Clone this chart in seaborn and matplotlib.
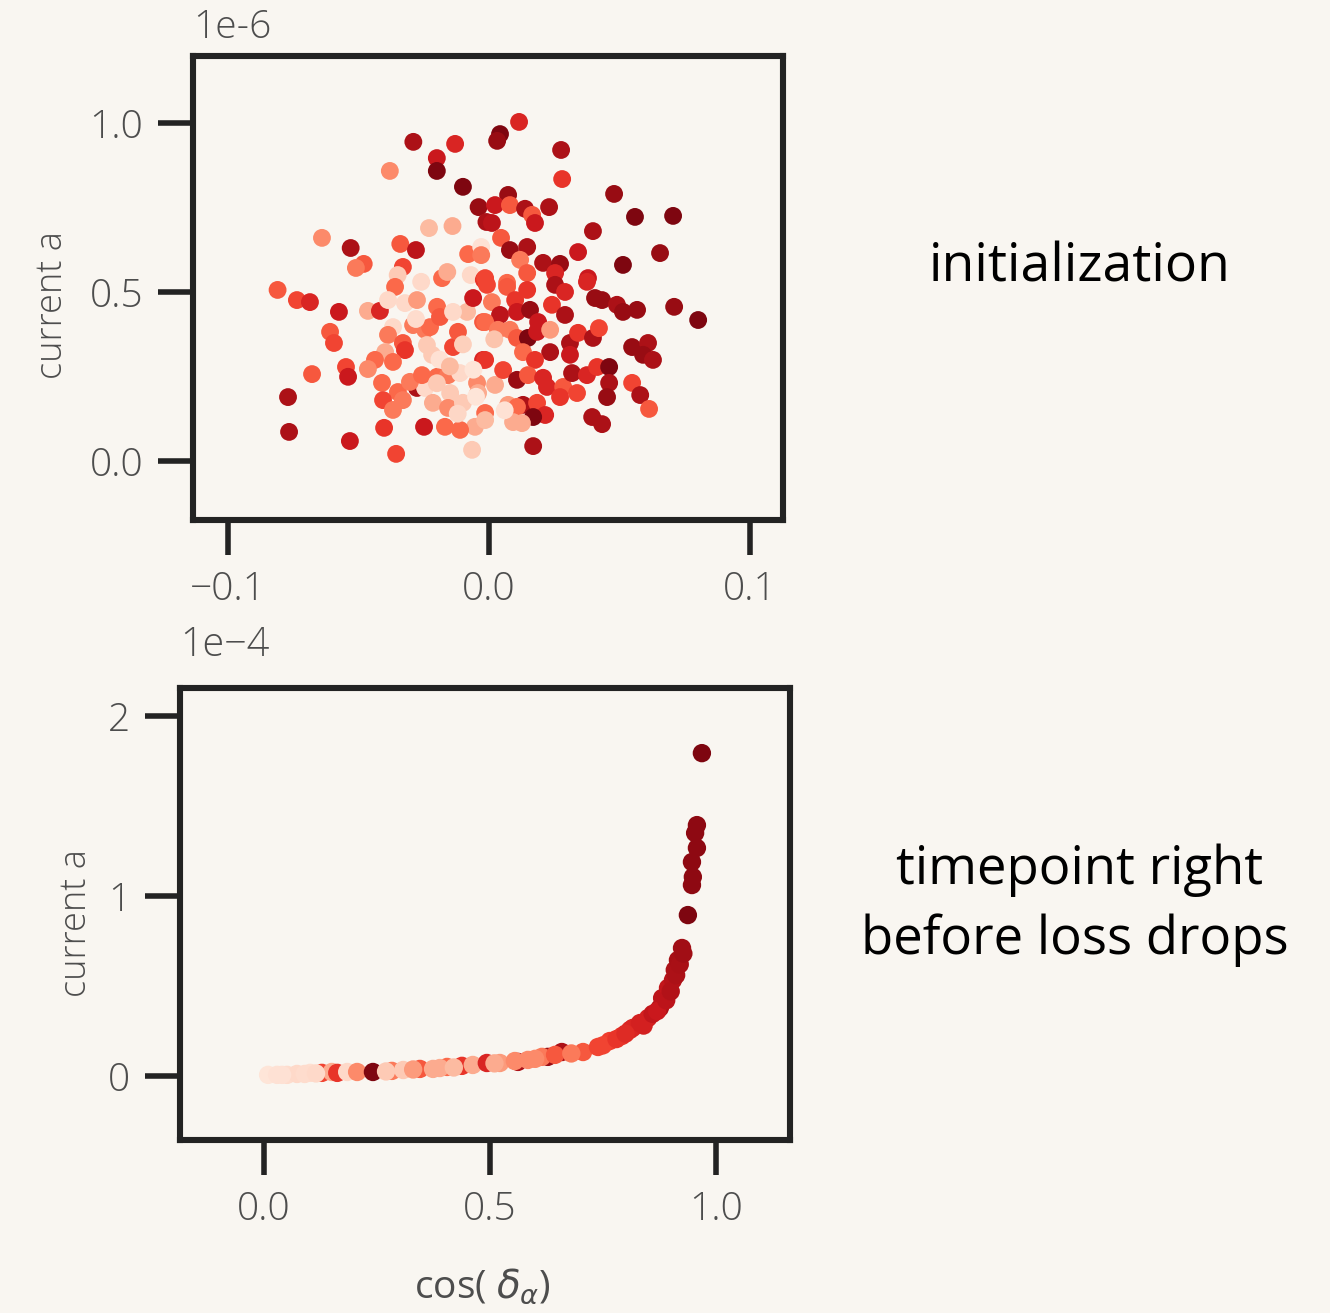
import numpy as np
import pandas as pd
import matplotlib
matplotlib.use("Agg")
import matplotlib.pyplot as plt
from matplotlib.ticker import FixedLocator, FuncFormatter
import seaborn as sns

# ---------------- data: initialization (cos, current a [1e-6], colour value) ----------------
init_cos = [
    -0.029, -0.013, -0.020, -0.020, -0.038, -0.010, -0.004, -0.001, -0.023, -0.014,
    -0.064, -0.053, -0.034, -0.028, -0.048, -0.051, -0.033, -0.008, -0.003, -0.003,
    -0.081, -0.035, -0.036, -0.026, -0.018, -0.016, -0.007, -0.002,
    0.0115, 0.0042, 0.0031, 0.0276, 0.0280, 0.0479, 0.0559, 0.0705, 0.0073, 0.0023,
    0.0080, 0.0138, 0.0165, 0.0176, 0.0230, 0.0011, 0.0398, 0.0046, 0.0080, 0.0146,
    0.0119, 0.0341, 0.0655, 0.0513, 0.0207, 0.0272, 0.0379, -0.0015, 0.0069, 0.0146,
    0.0253,
    -0.0736, -0.0686, -0.0575, -0.0464, -0.0418, -0.0387, -0.0322, -0.0276, -0.0609, -0.0594,
    -0.0368, -0.0387, -0.0330, -0.0322, -0.0291, -0.0245, -0.0226, -0.0199, -0.0188, -0.0238,
    -0.0218, -0.0138, -0.0119, -0.0084, -0.0061, -0.0138, -0.0023, -0.0023, -0.0398, -0.0437,
    -0.0368, -0.0464, -0.0548, -0.0540, -0.0678, -0.0410, -0.0349, -0.0406, -0.0368, -0.0330,
    -0.0276, -0.0245, -0.0303, -0.0257, -0.0199, -0.0157, -0.0111, -0.0046, -0.0042, -0.0149,
    -0.0215, -0.0157, -0.0100, -0.0015, -0.0054, -0.0111, -0.0169, -0.0249, -0.0402, -0.0770,
    -0.0766, -0.0533, -0.0356, -0.0065,
    -0.0008, 0.0069, 0.0146, 0.0253, 0.0291, 0.0375, 0.0406, 0.0433, 0.0490, 0.0513,
    0.0567, 0.0709, 0.0801, 0.0011, 0.0100, 0.0042, 0.0107, 0.0157, 0.0241, 0.0291,
    -0.0015, 0.0034, 0.0080, 0.0107, 0.0149, 0.0188, 0.0184, 0.0234, 0.0234, 0.0130,
    0.0176, 0.0310, 0.0310, 0.0341, 0.0398, 0.0421, -0.0015, 0.0023, 0.0054, 0.0107,
    0.0149, 0.0207, 0.0222, 0.0284, 0.0272, 0.0318, 0.0337, 0.0375, 0.0414, 0.0460,
    0.0460, 0.0452, 0.0548, 0.0609, 0.0590, 0.0628, 0.0548, 0.0579, 0.0613, 0.0395,
    0.0433, 0.0169, 0.0130, 0.0184, 0.0215, 0.0169, 0.0073, 0.0107, 0.0126, -0.0015,
    0.0092,
    -0.0190, -0.0100, -0.0060, -0.0280, -0.0200, -0.0120, 0.0020, 0.0060, -0.0150, -0.0050,
]
init_current = [
    0.944, 0.938, 0.896, 0.858, 0.858, 0.811, 0.751, 0.707, 0.689, 0.695,
    0.660, 0.630, 0.642, 0.624, 0.583, 0.571, 0.574, 0.612, 0.633, 0.609,
    0.506, 0.550, 0.515, 0.530, 0.541, 0.559, 0.550, 0.536,
    1.003, 0.967, 0.947, 0.920, 0.834, 0.790, 0.722, 0.725, 0.787, 0.757,
    0.757, 0.746, 0.728, 0.704, 0.751, 0.704, 0.680, 0.660, 0.624, 0.633,
    0.595, 0.618, 0.615, 0.580, 0.586, 0.583, 0.541, 0.541, 0.527, 0.556,
    0.556,
    0.476, 0.470, 0.441, 0.444, 0.444, 0.476, 0.467, 0.476, 0.382, 0.349,
    0.396, 0.373, 0.349, 0.328, 0.402, 0.388, 0.396, 0.456, 0.426, 0.343,
    0.314, 0.337, 0.382, 0.441, 0.482, 0.441, 0.411, 0.299, 0.322, 0.299,
    0.293, 0.272, 0.278, 0.249, 0.257, 0.231, 0.204, 0.180, 0.151, 0.180,
    0.216, 0.216, 0.234, 0.254, 0.249, 0.254, 0.260, 0.231, 0.201, 0.201,
    0.172, 0.157, 0.172, 0.142, 0.101, 0.092, 0.101, 0.101, 0.098, 0.189,
    0.086, 0.059, 0.021, 0.033,
    0.521, 0.515, 0.506, 0.521, 0.500, 0.530, 0.482, 0.476, 0.462, 0.441,
    0.447, 0.456, 0.417, 0.470, 0.476, 0.432, 0.441, 0.447, 0.462, 0.432,
    0.411, 0.388, 0.388, 0.364, 0.364, 0.411, 0.382, 0.388, 0.322, 0.322,
    0.299, 0.349, 0.314, 0.379, 0.364, 0.393, 0.299, 0.225, 0.269, 0.240,
    0.254, 0.246, 0.219, 0.219, 0.189, 0.260, 0.201, 0.254, 0.278, 0.278,
    0.231, 0.189, 0.337, 0.349, 0.314, 0.299, 0.231, 0.195, 0.154, 0.130,
    0.109, 0.044, 0.166, 0.172, 0.136, 0.130, 0.166, 0.160, 0.112, 0.121,
    0.115,
    0.300, 0.345, 0.270, 0.420, 0.230, 0.140, 0.360, 0.150, 0.280, 0.190,
]
init_shade = [
    0.85, 0.70, 0.75, 0.95, 0.40, 0.95, 0.90, 0.85, 0.25, 0.30,
    0.40, 0.85, 0.55, 0.80, 0.55, 0.45, 0.60, 0.50, 0.12, 0.45,
    0.55, 0.20, 0.50, 0.15, 0.50, 0.30, 0.15, 0.65,
    0.70, 0.95, 0.90, 0.85, 0.65, 0.90, 0.95, 0.95, 0.90, 0.75,
    0.55, 0.85, 0.55, 0.75, 0.85, 0.80, 0.85, 0.55, 0.90, 0.85,
    0.45, 0.75, 0.90, 0.95, 0.85, 0.90, 0.75, 0.60, 0.50, 0.55,
    0.70,
    0.60, 0.70, 0.75, 0.30, 0.70, 0.15, 0.15, 0.35, 0.55, 0.60,
    0.15, 0.45, 0.55, 0.65, 0.45, 0.45, 0.50, 0.50, 0.55, 0.20,
    0.20, 0.60, 0.55, 0.25, 0.75, 0.15, 0.55, 0.70, 0.30, 0.50,
    0.50, 0.40, 0.60, 0.75, 0.55, 0.50, 0.50, 0.60, 0.45, 0.45,
    0.85, 0.15, 0.45, 0.50, 0.50, 0.45, 0.15, 0.40, 0.30, 0.20,
    0.30, 0.40, 0.20, 0.50, 0.30, 0.50, 0.50, 0.75, 0.65, 0.85,
    0.85, 0.75, 0.60, 0.20,
    0.60, 0.55, 0.65, 0.85, 0.70, 0.70, 0.90, 0.90, 0.85, 0.90,
    0.90, 0.90, 0.95, 0.45, 0.65, 0.80, 0.75, 0.90, 0.65, 0.85,
    0.50, 0.45, 0.45, 0.55, 0.95, 0.75, 0.75, 0.35, 0.85, 0.50,
    0.65, 0.85, 0.75, 0.65, 0.85, 0.60, 0.65, 0.30, 0.60, 0.90,
    0.55, 0.70, 0.70, 0.55, 0.65, 0.85, 0.60, 0.70, 0.65, 0.95,
    0.85, 0.90, 0.90, 0.85, 0.90, 0.85, 0.60, 0.85, 0.55, 0.85,
    0.85, 0.85, 0.85, 0.60, 0.70, 0.95, 0.35, 0.50, 0.30, 0.25,
    0.30,
    0.12, 0.18, 0.10, 0.14, 0.20, 0.16, 0.22, 0.12, 0.25, 0.10,
]

# ---------------- data: right before loss drops (cos, current a [1e-4], colour value) ----------------
drop_cos = [
    0.009, 0.029, 0.051, 0.073, 0.102, 0.128, 0.150, 0.162, 0.184, 0.206,
    0.241, 0.283, 0.308, 0.345, 0.374, 0.405, 0.389, 0.438, 0.462, 0.493,
    0.522, 0.562, 0.555, 0.584, 0.628, 0.615, 0.659, 0.644, 0.706, 0.739,
    0.765, 0.792, 0.810, 0.816, 0.832, 0.850, 0.876, 0.881, 0.894, 0.905,
    0.909, 0.916, 0.925, 0.938, 0.947, 0.949, 0.947, 0.958, 0.954, 0.958,
    0.969,
    0.040, 0.090, 0.115, 0.270, 0.330, 0.420, 0.510, 0.600, 0.680, 0.750,
    0.780, 0.800, 0.840, 0.860, 0.870, 0.890, 0.900, 0.912, 0.920, 0.928,
]
drop_current = [
    0.006, 0.006, 0.006, 0.011, 0.017, 0.017, 0.022, 0.017, 0.022, 0.022,
    0.022, 0.028, 0.033, 0.039, 0.039, 0.050, 0.044, 0.056, 0.061, 0.072,
    0.072, 0.078, 0.083, 0.089, 0.106, 0.106, 0.133, 0.117, 0.133, 0.161,
    0.194, 0.222, 0.256, 0.267, 0.294, 0.322, 0.378, 0.433, 0.489, 0.533,
    0.589, 0.644, 0.711, 0.894, 1.061, 1.106, 1.189, 1.267, 1.350, 1.394,
    1.794,
    0.006, 0.011, 0.014, 0.025, 0.036, 0.047, 0.070, 0.095, 0.125, 0.170,
    0.205, 0.235, 0.280, 0.345, 0.360, 0.420, 0.470, 0.560, 0.620, 0.680,
]
drop_shade = [
    0.10, 0.12, 0.14, 0.15, 0.13, 0.60, 0.30, 0.65, 0.15, 0.40,
    0.95, 0.45, 0.20, 0.55, 0.30, 0.50, 0.30, 0.65, 0.30, 0.70,
    0.35, 0.85, 0.40, 0.40, 0.90, 0.45, 0.85, 0.55, 0.55, 0.60,
    0.62, 0.65, 0.68, 0.70, 0.72, 0.72, 0.85, 0.80, 0.78, 0.82,
    0.85, 0.87, 0.88, 0.95, 0.92, 0.92, 0.92, 0.92, 0.92, 0.92,
    0.95,
    0.12, 0.14, 0.15, 0.20, 0.35, 0.25, 0.30, 0.40, 0.45, 0.60,
    0.65, 0.68, 0.72, 0.78, 0.75, 0.80, 0.83, 0.85, 0.86, 0.88,
]

init_xticks = [-0.1, 0.0, 0.1]
init_yticks = [0.0, 0.5, 1.0]
drop_xticks = [0.0, 0.5, 1.0]
drop_yticks = [0, 1, 2]

# ---------------- style ----------------
BG = "#f9f6f1"
INK = "#232323"
GREY = "#4d4d4d"
sns.set_style("white")
plt.rcParams["font.family"] = ["Open Sans", "DejaVu Sans"]
plt.rcParams["mathtext.fontset"] = "dejavusans"
plt.rcParams["axes.unicode_minus"] = True

fig = plt.figure(figsize=(13.3, 13.13), dpi=100, facecolor=BG)
W, H = 1330, 1313

def px_axes(l, t, r, b):
    return fig.add_axes([l / W, 1 - b / H, (r - l) / W, (b - t) / H])

ax1 = px_axes(193, 56, 783, 520)
ax2 = px_axes(180, 688, 790, 1140)

df1 = pd.DataFrame({"cos": init_cos,
                    "current": np.array(init_current) * 1e-6,
                    "shade": init_shade})
df2 = pd.DataFrame({"cos": drop_cos,
                    "current": np.array(drop_current) * 1e-4,
                    "shade": drop_shade})

sns.scatterplot(data=df1, x="cos", y="current", hue="shade", palette="Reds",
                hue_norm=(0.0, 1.0), s=165, linewidth=0, legend=False, ax=ax1)
sns.scatterplot(data=df2, x="cos", y="current", hue="shade", palette="Reds",
                hue_norm=(0.0, 1.0), s=175, linewidth=0, legend=False, ax=ax2)

ax1.set_xlim(-0.1134, 0.1126)
ax1.set_ylim(-0.1746e-6, 1.198e-6)
ax2.set_xlim(-0.186, 1.164)
ax2.set_ylim(-0.356e-4, 2.156e-4)

def fmt1(scale):
    return FuncFormatter(lambda v, p: f"{v / scale:.1f}".replace("-", "\u2212"))

ax1.xaxis.set_major_locator(FixedLocator(init_xticks))
ax1.xaxis.set_major_formatter(FuncFormatter(lambda v, p: f"{v:.1f}".replace("-", "\u2212")))
ax1.yaxis.set_major_locator(FixedLocator([v * 1e-6 for v in init_yticks]))
ax1.yaxis.set_major_formatter(fmt1(1e-6))
ax2.xaxis.set_major_locator(FixedLocator(drop_xticks))
ax2.xaxis.set_major_formatter(FuncFormatter(lambda v, p: f"{v:.1f}"))
ax2.yaxis.set_major_locator(FixedLocator([v * 1e-4 for v in drop_yticks]))
ax2.yaxis.set_major_formatter(FuncFormatter(lambda v, p: f"{v / 1e-4:.0f}"))

for ax in (ax1, ax2):
    ax.set_facecolor(BG)
    for sp in ax.spines.values():
        sp.set_visible(True)
        sp.set_linewidth(4.4)
        sp.set_color(INK)
    ax.tick_params(axis="both", which="major", direction="out", length=25,
                   width=4.0, color=INK, labelsize=28, labelcolor=GREY, pad=11,
                   bottom=True, left=True, top=False, right=False)
    for lab in ax.get_xticklabels() + ax.get_yticklabels():
        lab.set_fontweight("light")
    ax.set_xlabel("")
    ax.set_ylabel("")

# offset labels
ax1.text(0.0, 1.02, "1e-6", transform=ax1.transAxes, ha="left", va="bottom",
         fontsize=28, color=GREY, fontweight="light")
ax2.text(0.0, 1.048, "1e\u22124", transform=ax2.transAxes, ha="left", va="bottom",
         fontsize=28.5, color=GREY, fontweight="light")

# axis labels
fig.text(53 / W, 1 - 305 / H, "current a", rotation=90, ha="center", va="center",
         fontsize=26, color=GREY, fontweight="light")
fig.text(76 / W, 1 - 923 / H, "current a", rotation=90, ha="center", va="center",
         fontsize=26, color=GREY, fontweight="light")
fig.text(482 / W, 1 - 1287 / H, r"cos( $\delta_{\alpha}$)", ha="center", va="center",
         fontsize=28, color=GREY, fontweight="normal")

# annotations
fig.text(1080 / W, 1 - 268 / H, "initialization", ha="center", va="center",
         fontsize=38.5, color="black")
fig.text(1080 / W, 1 - 870 / H, "timepoint right", ha="center", va="center",
         fontsize=38, color="black")
fig.text(1075 / W, 1 - 940 / H, "before loss drops", ha="center", va="center",
         fontsize=38, color="black")

fig.savefig("out.png", dpi=100, facecolor=BG)
